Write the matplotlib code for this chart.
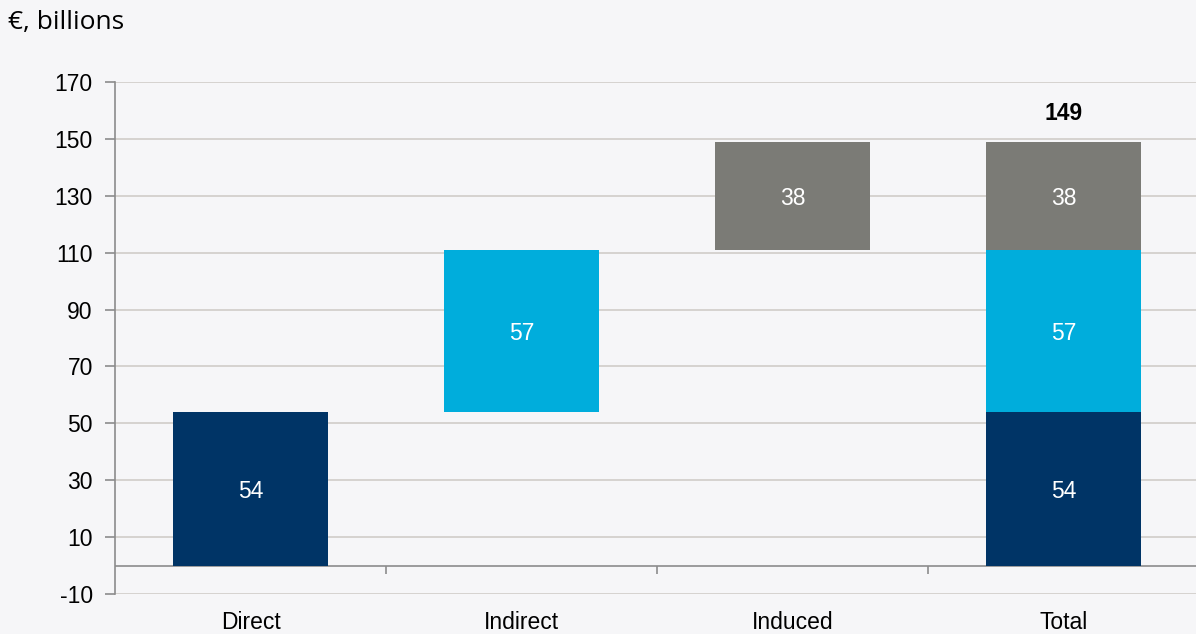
import numpy as np
import matplotlib
matplotlib.use('Agg')
import matplotlib.pyplot as plt

categories = ["Direct", "Indirect", "Induced", "Total"]
direct = 54
indirect = 57
induced = 38
total = direct + indirect + induced

# waterfall segments: (category index, bottom, height, colour key)
seg_x = [0, 1, 2, 3, 3, 3]
seg_bottom = [0, direct, direct + indirect, 0, direct, direct + indirect]
seg_height = [direct, indirect, induced, direct, indirect, induced]
seg_kind = ["direct", "indirect", "induced", "direct", "indirect", "induced"]

colors = {"direct": "#003466", "indirect": "#00ADDC", "induced": "#7B7B76"}

plt.rcParams['font.family'] = ['Liberation Sans', 'DejaVu Sans']
plt.rcParams['axes.unicode_minus'] = False

fig = plt.figure(figsize=(11.96, 6.34), dpi=100)
fig.patch.set_facecolor('#F6F6F8')
ax = fig.add_axes([0.0962, 0.0631, 0.9063, 0.8076])
ax.set_facecolor('none')

for x, b, h, k in zip(seg_x, seg_bottom, seg_height, seg_kind):
    ax.bar(x, h, bottom=b, width=0.57, color=colors[k], zorder=3)
    ax.text(x, b + h / 2 - 1, str(h), ha='center', va='center', color='white',
            fontsize=16.5, zorder=4)

ax.text(3, total + 6, str(total), ha='center', va='bottom', fontsize=16.5,
        fontweight='bold', color='black')

ax.set_xlim(-0.5, 3.5)
ax.set_ylim(-10, 170)
ax.set_yticks(np.arange(-10, 171, 20))
ax.yaxis.grid(True, color='#D0CDC9', linewidth=1.2, zorder=0)
ax.set_axisbelow(True)

# category axis at zero with separator ticks
ax.axhline(0, color='#8C8C8C', linewidth=1.2, zorder=2)
ax.vlines([0.5, 1.5, 2.5], -3, 0, color='#8C8C8C', linewidth=1.2, zorder=2)

ax.set_xticks(range(len(categories)))
ax.set_xticklabels(categories)
ax.tick_params(axis='x', length=0, pad=12, labelsize=16.5)
ax.tick_params(axis='y', length=7, color='#8C8C8C', width=1.2, labelsize=16.5,
               direction='out', pad=9)

for s in ['top', 'right', 'bottom']:
    ax.spines[s].set_visible(False)
ax.spines['left'].set_color('#8C8C8C')
ax.spines['left'].set_linewidth(1.2)

fig.text(0.007, 0.965, "€, billions", fontsize=19, family=['Open Sans', 'DejaVu Sans'],
         va='center', ha='left')

plt.savefig("out.png", dpi=100, facecolor=fig.get_facecolor())
